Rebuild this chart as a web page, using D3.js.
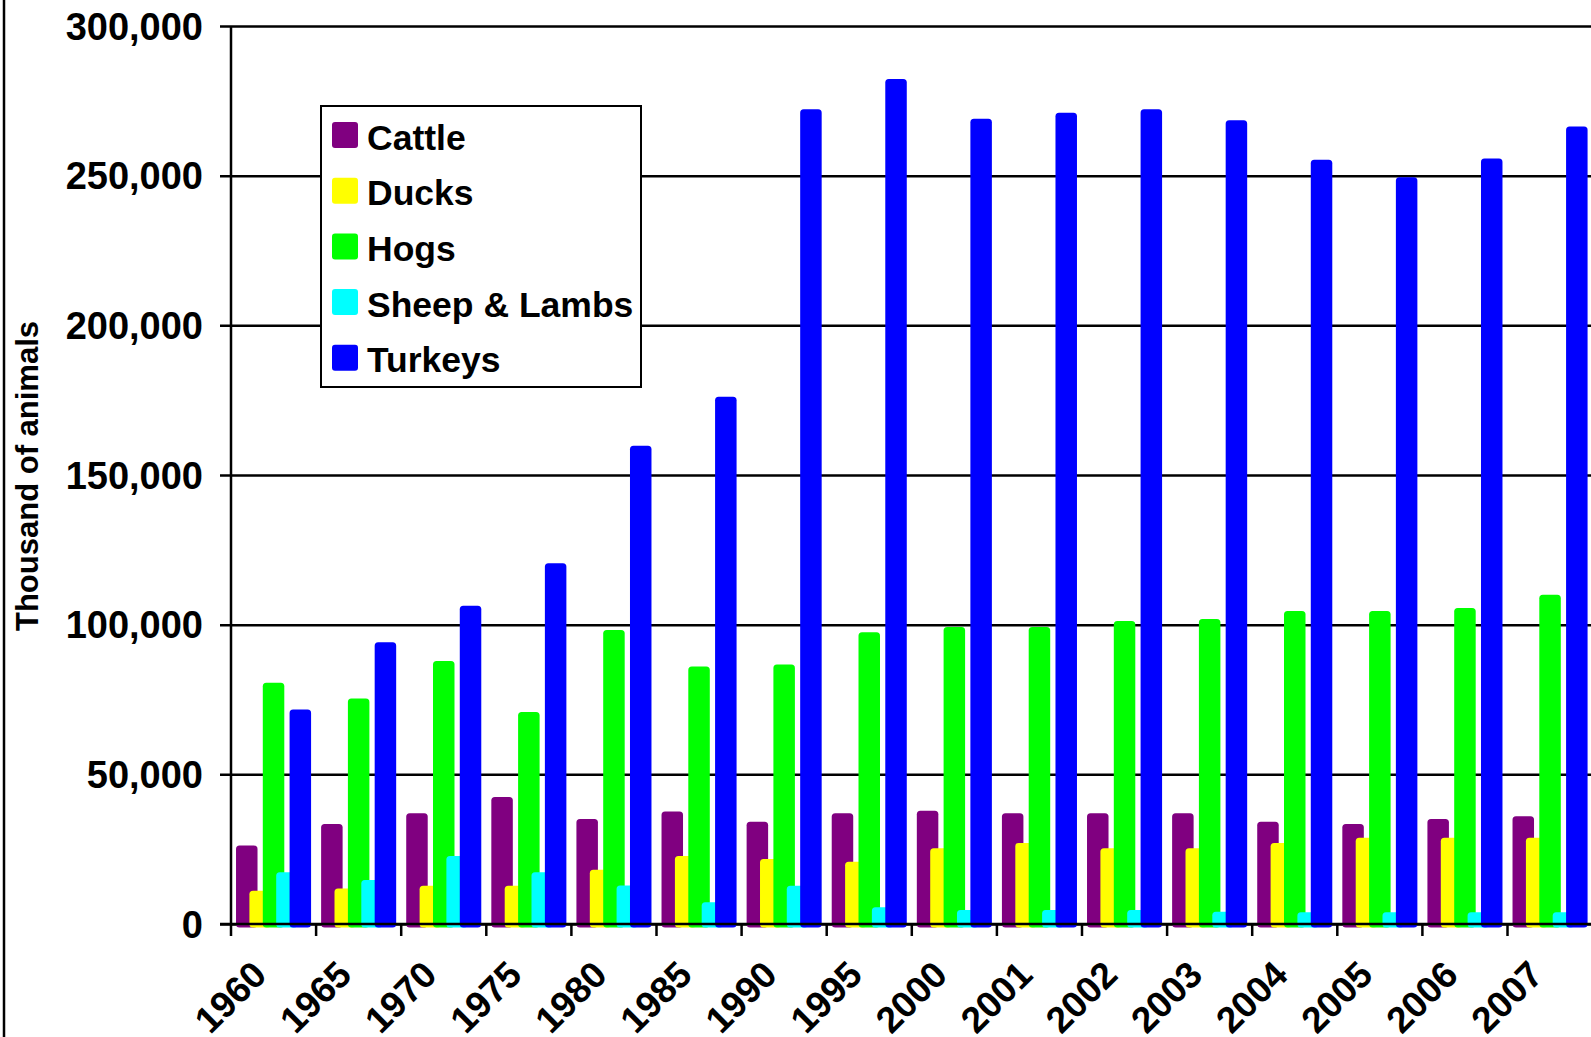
<!DOCTYPE html>
<html>
<head>
<meta charset="utf-8">
<script src="https://cdn.jsdelivr.net/npm/d3@7"></script>
<style>
  body { margin: 0; background: #fff; }
  text { font-family: "Liberation Sans", Arial, sans-serif; font-weight: bold; fill: #000; }
</style>
</head>
<body>
<div id="chart"></div>
<script>
//data (thousand of animals)
const years = ["1960", "1965", "1970", "1975", "1980", "1985", "1990", "1995",
    "2000", "2001", "2002", "2003", "2004", "2005", "2006", "2007"];
const seriesNames = ["Cattle", "Ducks", "Hogs", "Sheep & Lambs", "Turkeys"];
const seriesColors = ["#800080", "#ffff00", "#00ff00", "#00ffff", "#0000ff"];
const cattle = [26.2, 33.4, 37.0, 42.4, 35.1, 37.6, 34.2, 37.0, 37.8, 37.0, 37.0, 37.0, 34.2, 33.4, 35.1, 36.0];
const ducks = [11.1, 11.9, 12.8, 12.8, 18.1, 22.7, 21.7, 20.8, 25.3, 27.1, 25.3, 25.3, 27.1, 28.8, 28.8, 28.8];
const hogs = [80.6, 75.3, 87.9, 70.8, 98.2, 86.0, 86.7, 97.5, 99.2, 99.2, 101.2, 101.9, 104.6, 104.6, 105.6, 110.0];
const sheep = [17.3, 14.7, 22.7, 17.3, 12.9, 7.3, 12.8, 5.6, 4.7, 4.7, 4.7, 4.1, 3.9, 3.9, 3.9, 3.9];
const turkeys = [71.7, 94.1, 106.3, 120.5, 159.8, 176.1, 272.2, 282.3, 269.0, 271.0, 272.2, 268.5, 255.3, 249.5, 255.7, 266.4];
const yTicks = [0, 50000, 100000, 150000, 200000, 250000, 300000];

const allSeries = [cattle, ducks, hogs, sheep, turkeys];

//sizing
const width = 1591;
const height = 1037;
const plotLeft = 231;
const plotTop = 26;
const plotBottom = 924;
const catStep = 85.1;

const svg = d3.select("#chart")
    .append("svg")
    .attr("width", width)
    .attr("height", height);

//scales
const x = d3.scaleBand()
    .domain(years)
    .range([plotLeft, plotLeft + catStep * years.length])
    .paddingInner(0.118)
    .paddingOuter(0.059);

const barW = 21.5;
const xSeries = d3.scalePoint()
    .domain(seriesNames)
    .range([0, x.bandwidth() - barW]);

const y = d3.scaleLinear()
    .domain([0, 300000])
    .range([plotBottom, plotTop]);

//left page border
svg.append("line")
    .attr("x1", 4).attr("x2", 4)
    .attr("y1", 0).attr("y2", height)
    .attr("stroke", "black")
    .attr("stroke-width", 2.5);

//gridlines + y ticks
svg.append("g")
    .attr("transform", `translate(${plotLeft},0)`)
    .call(d3.axisLeft(y).tickValues(yTicks).tickSize(-(width - plotLeft)).tickFormat(""))
    .call(g => g.select(".domain").remove())
    .call(g => g.selectAll("line").attr("stroke", "black").attr("stroke-width", 2.5).attr("x1", -11));

//y labels
svg.selectAll(".ylab")
    .data(yTicks)
    .enter()
    .append("text")
    .attr("x", 203)
    .attr("y", d => y(d))
    .attr("dy", "0.36em")
    .attr("text-anchor", "end")
    .style("font-size", "38px")
    .text(d => d3.format(",")(d));

//bars, series in order so later ones sit on top
allSeries.forEach((vals, si) => {
    svg.append("g")
        .selectAll("rect")
        .data(vals)
        .enter()
        .append("rect")
        .attr("x", (d, i) => x(years[i]) + xSeries(seriesNames[si]))
        .attr("y", d => y(d * 1000))
        .attr("width", barW)
        .attr("height", d => y(0) - y(d * 1000) + 3.5)
        .attr("rx", 3.5)
        .attr("fill", seriesColors[si]);
});

//x axis line and ticks
svg.append("line")
    .attr("x1", plotLeft - 11).attr("x2", width)
    .attr("y1", plotBottom).attr("y2", plotBottom)
    .attr("stroke", "black").attr("stroke-width", 2.5);
svg.append("line")
    .attr("x1", plotLeft).attr("x2", plotLeft)
    .attr("y1", plotTop).attr("y2", plotBottom + 12)
    .attr("stroke", "black").attr("stroke-width", 2.5);
svg.selectAll(".xtick")
    .data(years.slice(1))
    .enter()
    .append("line")
    .attr("x1", (d, i) => plotLeft + catStep * (i + 1))
    .attr("x2", (d, i) => plotLeft + catStep * (i + 1))
    .attr("y1", plotBottom)
    .attr("y2", plotBottom + 12)
    .attr("stroke", "black").attr("stroke-width", 2.5);

//x labels, rotated
svg.selectAll(".xlab")
    .data(years)
    .enter()
    .append("text")
    .attr("transform", d => `translate(${x(d) + x.bandwidth() / 2 - 5},977) rotate(-45)`)
    .attr("text-anchor", "end")
    .style("font-size", "37px")
    .text(d => d);

//y title
svg.append("text")
    .attr("transform", "translate(38,476) rotate(-90)")
    .attr("text-anchor", "middle")
    .style("font-size", "31px")
    .text("Thousand of animals");

//legend
const legend = svg.append("g").attr("transform", "translate(321,106)");
legend.append("rect")
    .attr("width", 320)
    .attr("height", 281)
    .attr("fill", "white")
    .attr("stroke", "black")
    .attr("stroke-width", 2);
const rows = legend.selectAll(".row")
    .data(seriesNames)
    .enter()
    .append("g")
    .attr("transform", (d, i) => `translate(11,${16 + i * 55.7})`);
rows.append("rect")
    .attr("width", 26)
    .attr("height", 26)
    .attr("rx", 3)
    .attr("fill", (d, i) => seriesColors[i]);
rows.append("text")
    .attr("x", 35)
    .attr("y", 27.5)
    .style("font-size", "35.5px")
    .text(d => d);
</script>
</body>
</html>
